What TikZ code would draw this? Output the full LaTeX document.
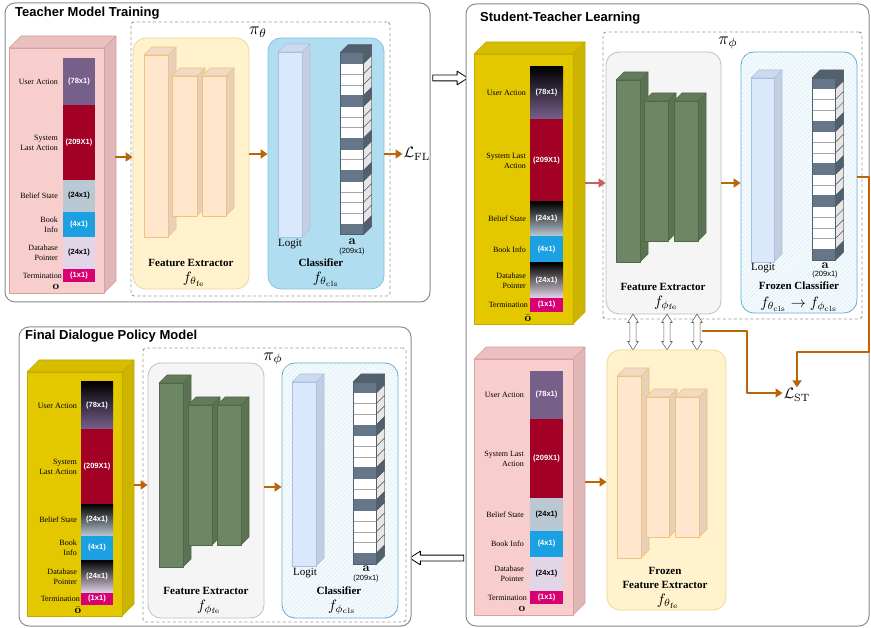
\documentclass[tikz,border=0pt]{standalone}
\usepackage{amsmath}
\usepackage[no-math]{fontspec}
\setmainfont{Liberation Serif}
\setsansfont{Liberation Sans}
\usetikzlibrary{arrows.meta,fit,shapes.arrows,patterns.meta,calc}

\definecolor{panelC}{HTML}{8C8C8C}
\definecolor{dashC}{HTML}{9A9A9A}
\definecolor{pinkF}{HTML}{F8CECC}
\definecolor{pinkS}{HTML}{DFB7B6}
\definecolor{pinkD}{HTML}{D9A09E}
\definecolor{yelF}{HTML}{E3C800}
\definecolor{yelS}{HTML}{CDB400}
\definecolor{yelD}{HTML}{C2AA00}
\definecolor{feF}{HTML}{FFF2CC}
\definecolor{feS}{HTML}{EDD695}
\definecolor{barF}{HTML}{FFE6CC}
\definecolor{barS}{HTML}{E6D0B9}
\definecolor{barD}{HTML}{F2C27C}
\definecolor{gboxF}{HTML}{F5F5F5}
\definecolor{gboxS}{HTML}{BFBFBF}
\definecolor{grF}{HTML}{6D8764}
\definecolor{grS}{HTML}{5B7253}
\definecolor{grD}{HTML}{50674A}
\definecolor{bboxF}{HTML}{B1DDF0}
\definecolor{bboxS}{HTML}{85C2E0}
\definecolor{hboxF}{HTML}{F5FAFD}
\definecolor{hboxS}{HTML}{5AA6D0}
\definecolor{hatchC}{HTML}{D3EAF5}
\definecolor{logF}{HTML}{DAE8FC}
\definecolor{logS}{HTML}{C3CEE0}
\definecolor{logD}{HTML}{A8C0E6}
\definecolor{darkC}{HTML}{647687}
\definecolor{darkS}{HTML}{525F6C}
\definecolor{sideW}{HTML}{E6E6E6}
\definecolor{cellL}{HTML}{A6A6A6}
\definecolor{cUA}{HTML}{76608A}
\definecolor{cSLA}{HTML}{A20025}
\definecolor{cBS}{HTML}{BAC8D3}
\definecolor{cBI}{HTML}{1BA1E2}
\definecolor{cDB}{HTML}{E1D5E7}
\definecolor{cTE}{HTML}{D80073}
\definecolor{orangeC}{HTML}{B9660B}
\definecolor{redC}{HTML}{CB5F5C}

\newcount\lblc

% #1 name, #2 x, #3 y, #4 w, #5 h, #6 depth, #7 front, #8 side, #9 stroke
\newcommand\cuboid[9]{%
 \filldraw[fill=#8,draw=#9,line width=0.7pt] (#2+#4,#3) -- ++(#6,-#6) -- ++(0,#5) -- ++(-#6,#6) -- cycle;
 \filldraw[fill=#8!55!#7,draw=#9,line width=0.7pt] (#2,#3) -- ++(#6,-#6) -- ++(#4,0) -- ++(-#6,#6) -- cycle;
 \node[fit={(#2,#3) (#2+#4,#3+#5)},inner sep=0pt,fill=#7,draw=#9,line width=0.7pt] (#1) {};
}

% #1 x1, #2 x2, #3 y1, #4 y2, #5 fill spec, #6 text colour, #7 value, #8 label, #9 label x
\newcommand\segrow[9]{%
 \path[#5] (#1,#3) rectangle (#2,#4);
 \global\advance\lblc by 1
 \node[segval,text=#6] (v\the\lblc) at ({(#1+#2)/2},{(#3+#4)/2}) {#7};
 \node[seglab] (l\the\lblc) at (#9,{(#3+#4)/2}) {#8};
}

% output column: #1 name, #2 x, #3 y
\newcommand\acol[3]{%
 \foreach \i in {0,...,16}{%
   \filldraw[fill=sideW,draw=black!60,line width=0.5pt] (#2+23.5,#3+\i*10.7) -- ++(8,-8) -- ++(0,10.7) -- ++(-8,8) -- cycle;
   \filldraw[fill=white,draw=cellL,line width=0.5pt] (#2,#3+\i*10.7) rectangle ++(23.5,10.7);
 }
 \foreach \i in {0,4,8,11,16}{%
   \filldraw[fill=darkS,draw=darkS,line width=0.5pt] (#2+23.5,#3+\i*10.7) -- ++(8,-8) -- ++(0,10.7) -- ++(-8,8) -- cycle;
   \filldraw[fill=darkC,draw=darkC,line width=0.5pt] (#2,#3+\i*10.7) rectangle ++(23.5,10.7);
 }
 \filldraw[fill=darkS,draw=darkS,line width=0.5pt] (#2,#3) -- ++(8,-8) -- ++(23.5,0) -- ++(-8,8) -- cycle;
 \node[fit={(#2,#3) (#2+23.5,#3+181.9)},inner sep=0pt,draw=darkS,line width=0.6pt] (#1) {};
}

\begin{document}
\begin{tikzpicture}[x=1pt,y=-1pt,line join=round,
 panel/.style={draw=panelC,line width=1pt,rounded corners=10pt,fill=white,inner sep=0pt},
 dashbox/.style={draw=dashC,line width=0.9pt,dash pattern=on 3pt off 2.5pt,rounded corners=3pt,inner sep=0pt},
 ptitle/.style={font=\sffamily\bfseries\fontsize{13}{15}\selectfont,anchor=west,inner sep=0pt},
 febox/.style={draw=feS,fill=feF,rounded corners=13pt,line width=0.8pt,inner sep=0pt},
 gbox/.style={draw=gboxS,fill=gboxF,rounded corners=13pt,line width=0.8pt,inner sep=0pt},
 bbox/.style={draw=bboxS,fill=bboxF,rounded corners=13pt,line width=0.8pt,inner sep=0pt},
 hbox/.style={draw=hboxS,fill=hboxF,rounded corners=13pt,line width=0.8pt,inner sep=0pt,
   postaction={pattern={Lines[angle=45,distance=3pt,line width=0.35pt]},pattern color=hatchC}},
 boxlab/.style={font=\bfseries\fontsize{11}{13}\selectfont,inner sep=0pt},
 mlab/.style={font=\fontsize{10}{12}\selectfont,scale=1.5,inner sep=0pt},
 pilab/.style={font=\fontsize{10}{12}\selectfont,scale=1.75,inner sep=0pt},
 txt/.style={font=\fontsize{11}{13}\selectfont,inner sep=0pt},
 avec/.style={font=\fontsize{10}{12}\selectfont,scale=1.25,inner sep=0pt},
 ovec/.style={font=\fontsize{10}{12}\selectfont,scale=1.15,inner sep=0pt},
 dimlab/.style={font=\sffamily\fontsize{7.5}{9}\selectfont,inner sep=0pt},
 seglab/.style={font=\fontsize{8}{10}\selectfont,align=right,anchor=east,inner sep=0pt},
 segval/.style={font=\sffamily\bfseries\fontsize{7.5}{9}\selectfont,inner sep=0pt},
 losslab/.style={font=\fontsize{10}{12}\selectfont,scale=1.5,inner sep=0.7pt},
 oarrow/.style={draw=orangeC,line width=2.4pt,-{Triangle[length=7pt,width=9pt]}},
 rarrow/.style={draw=redC,line width=2.4pt,-{Triangle[length=7pt,width=9pt]}},
 harrow/.style={single arrow,draw=black,fill=white,line width=0.8pt,inner xsep=0pt,inner ysep=2.5pt,
   single arrow head extend=4pt,single arrow tip angle=66},
 dblarrow/.style={double arrow,draw=black!60,fill=white,line width=0.6pt,inner xsep=0pt,inner ysep=2.8pt,
   double arrow head extend=2.2pt,double arrow tip angle=64}
]
\useasboundingbox (0,0) rectangle (871,628);
\fill[white] (0,0) rectangle (871,628);

%================ Panel 1 =================
\node[panel,fit={(5,3) (430,302)}] (P1) {};
\node[ptitle] (t1) at (15,13) {Teacher Model Training};
\node[dashbox,fit={(131,22) (390,296)}] (D1) {};
\node[pilab] (pi1) at (258,32) {$\pi_\theta$};

\cuboid{in1}{9}{48}{95}{245}{12}{pinkF}{pinkS}{pinkD}
\segrow{63}{95}{58}{105}{fill=cUA}{white}{(78x1)}{User Action}{58}
\segrow{63}{95}{105}{180}{fill=cSLA}{white}{(209X1)}{System\\Last Action}{58}
\segrow{63}{95}{180}{212}{fill=cBS}{black}{(24x1)}{Belief State}{58}
\segrow{63}{95}{212}{237}{fill=cBI}{white}{(4x1)}{Book\\Info}{58}
\segrow{63}{95}{237}{269}{fill=cDB}{black}{(24x1)}{Database\\Pointer}{58}
\segrow{63}{95}{269}{282}{fill=cTE}{white}{(1x1)}{Termination}{62}
\node[ovec] (o1) at (56,287) {$\mathbf{o}$};

\node[febox,fit={(133,38) (249,289)}] (fe1) {};
\cuboid{b11}{144}{55}{24}{182}{8}{barF}{barS}{barD}
\cuboid{b12}{172}{76}{25}{140}{8}{barF}{barS}{barD}
\cuboid{b13}{202}{76}{24}{140}{8}{barF}{barS}{barD}
\node[boxlab] (fel1) at (191,263) {Feature Extractor};
\node[mlab] (fef1) at (194,279) {$f_{\theta_{\mathrm{fe}}}$};

\node[bbox,fit={(268,38) (384,289)}] (cl1) {};
\cuboid{lg1}{278}{52}{24}{185}{8}{logF}{logS}{logD}
\node[txt] (lgl1) at (290,244) {Logit};
\acol{a1}{340}{52.7}
\node[avec] (al1) at (352,242) {$\mathbf{a}$};
\node[dimlab] (ad1) at (352,251.5) {(209x1)};
\node[boxlab] (cll1) at (321,263) {Classifier};
\node[mlab] (clf1) at (326,279) {$f_{\theta_{\mathrm{cls}}}$};

\coordinate (s1) at (115,157);
\draw[oarrow] (s1) -- (s1 -| fe1.west);
\draw[oarrow] ($(fe1.east)+(0,-9.5)$) -- ($(cl1.west)+(0,-9.5)$);
\node[losslab] (lfl) at (417,154) {$\mathcal{L}_{\mathrm{FL}}$};
\draw[oarrow] ($(cl1.east)+(0,-9.5)$) -- (lfl.west);

\node[harrow,minimum height=35pt] (h1) at (448,78) {};

%================ Panel 2 =================
\node[panel,fit={(466,4) (869,626)}] (P2) {};
\node[ptitle] (t2) at (480,18) {Student-Teacher Learning};
\node[dashbox,fit={(603,32) (862,319)}] (D2) {};
\node[pilab] (pi2) at (728,43) {$\pi_\phi$};

\cuboid{in2}{474}{54}{99}{270}{12}{yelF}{yelS}{yelD}
\segrow{530}{563}{67}{119}{top color=black,bottom color=cUA}{white}{(78x1)}{User Action}{526}
\segrow{530}{563}{119}{202}{fill=cSLA}{white}{(209X1)}{System Last\\Action}{526}
\segrow{530}{563}{202}{236}{top color=black,bottom color=cBS}{white}{(24x1)}{Belief State}{526}
\segrow{530}{563}{236}{263}{fill=cBI}{white}{(4x1)}{Book Info}{526}
\segrow{530}{563}{263}{298}{top color=black,bottom color=cDB}{white}{(24x1)}{Database\\Pointer}{526}
\segrow{530}{563}{298}{312}{fill=cTE}{white}{(1x1)}{Termination}{528}
\node[ovec] (o2) at (528,318) {$\bar{\mathbf{o}}$};

\node[gbox,fit={(606,52) (721,314)}] (fe2) {};
\cuboid{b21}{616}{80}{24}{182}{8}{grF}{grS}{grD}
\cuboid{b22}{644}{101}{24}{140}{8}{grF}{grS}{grD}
\cuboid{b23}{674}{101}{24}{140}{8}{grF}{grS}{grD}
\node[boxlab] (fel2) at (663,287) {Feature Extractor};
\node[mlab] (fef2) at (666,303) {$f_{\phi_{\mathrm{fe}}}$};

\node[hbox,fit={(741,52) (857,313)}] (fc2) {};
\cuboid{lg2}{751}{78}{23}{184}{8}{logF}{logS}{logD}
\node[txt] (lgl2) at (763,268) {Logit};
\acol{a2}{812}{78}
\node[avec] (al2) at (825,265.5) {$\mathbf{a}$};
\node[dimlab] (ad2) at (825,274.5) {(209x1)};
\node[boxlab] (cll2) at (799,286) {Frozen Classifier};
\node[mlab] (clf2) at (799,304.5) {$f_{\theta_{\mathrm{cls}}}\rightarrow f_{\phi_{\mathrm{cls}}}$};

\coordinate (s3) at (585,183);
\draw[rarrow] (s3) -- (s3 -| fe2.west);
\draw[oarrow] (fe2.east) -- (fe2.east -| fc2.west);

\node[losslab] (lst) at (797,395) {$\mathcal{L}_{\mathrm{ST}}$};
\coordinate (c1) at ($(fc2.east)+(0,-5.5)$);
\draw[oarrow] (c1) -- (869,177) -- (869,352) -| (lst.north);
\coordinate (c2) at (702,331);
\draw[oarrow] (c2) -| (747,393) -- (lst.west |- 747,393);

\foreach \x [count=\k] in {633,667,697}
  \node[dblarrow,minimum height=36pt,rotate=90] (dd\k) at (\x,332) {};

\cuboid{in3}{474}{359}{99}{256}{12}{pinkF}{pinkS}{pinkD}
\segrow{530}{563}{371}{419}{fill=cUA}{white}{(78x1)}{User Action}{524}
\segrow{530}{563}{419}{498}{fill=cSLA}{white}{(209X1)}{System Last\\Action}{524}
\segrow{530}{563}{498}{531}{fill=cBS}{black}{(24x1)}{Belief State}{524}
\segrow{530}{563}{531}{557}{fill=cBI}{white}{(4x1)}{Book Info}{524}
\segrow{530}{563}{557}{591}{fill=cDB}{black}{(24x1)}{Database\\Pointer}{524}
\segrow{530}{563}{591}{604}{fill=cTE}{white}{(1x1)}{Termination}{527}
\node[ovec] (o3) at (522,609) {$\mathbf{o}$};

\node[febox,fit={(607,350) (726,610)}] (ffe) {};
\cuboid{b31}{617}{376}{24}{182}{8}{barF}{barS}{barD}
\cuboid{b32}{646}{397}{23}{140}{8}{barF}{barS}{barD}
\cuboid{b33}{675}{397}{24}{140}{8}{barF}{barS}{barD}
\node[boxlab] (ffl1) at (665,571) {Frozen};
\node[boxlab] (ffl2) at (665,585) {Feature Extractor};
\node[mlab] (fff) at (668,601) {$f_{\theta_{\mathrm{fe}}}$};

\coordinate (s4) at (585,482);
\draw[oarrow] (s4) -- (s4 -| ffe.west);

\node[harrow,minimum height=54pt,shape border rotate=180] (h2) at (439,558) {};

%================ Panel 3 =================
\node[panel,fit={(19,327) (411,626)}] (P3) {};
\node[ptitle] (t3) at (25,336) {Final Dialogue Policy Model};
\node[dashbox,fit={(143,348) (406,622)}] (D3) {};
\node[pilab] (pi3) at (273,359) {$\pi_\phi$};

\cuboid{in4}{27}{372}{95}{244}{12}{yelF}{yelS}{yelD}
\segrow{81}{113}{382}{429}{top color=black,bottom color=cUA}{white}{(78x1)}{User Action}{77}
\segrow{81}{113}{429}{504}{fill=cSLA}{white}{(209X1)}{System\\Last Action}{77}
\segrow{81}{113}{504}{536}{top color=black,bottom color=cBS}{white}{(24x1)}{Belief State}{77}
\segrow{81}{113}{536}{560}{fill=cBI}{white}{(4x1)}{Book\\Info}{77}
\segrow{81}{113}{560}{593}{top color=black,bottom color=cDB}{white}{(24x1)}{Database\\Pointer}{77}
\segrow{81}{113}{593}{605}{fill=cTE}{white}{(1x1)}{Termination}{80}
\node[ovec] (o4) at (78,610) {$\bar{\mathbf{o}}$};

\node[gbox,fit={(148,363) (264,618)}] (fe3) {};
\cuboid{b41}{159}{383}{24}{184}{8}{grF}{grS}{grD}
\cuboid{b42}{188}{405}{24}{140}{8}{grF}{grS}{grD}
\cuboid{b43}{217}{405}{24}{140}{8}{grF}{grS}{grD}
\node[boxlab] (fel3) at (206,591) {Feature Extractor};
\node[mlab] (fef3) at (209,607) {$f_{\phi_{\mathrm{fe}}}$};

\node[hbox,fit={(282,363) (398,618)}] (cl3) {};
\cuboid{lg3}{292}{382}{24}{184}{8}{logF}{logS}{logD}
\node[txt] (lgl3) at (305,573) {Logit};
\acol{a3}{353}{382}
\node[avec] (al3) at (366,569) {$\mathbf{a}$};
\node[dimlab] (ad3) at (366,579) {(209x1)};
\node[boxlab] (cll3) at (339,591) {Classifier};
\node[mlab] (clf3) at (342,607) {$f_{\phi_{\mathrm{cls}}}$};

\coordinate (s5) at (134,485);
\draw[oarrow] (s5) -- (s5 -| fe3.west);
\draw[oarrow] ($(fe3.east)+(0,-3.5)$) -- ($(cl3.west)+(0,-3.5)$);
\end{tikzpicture}
\end{document}
